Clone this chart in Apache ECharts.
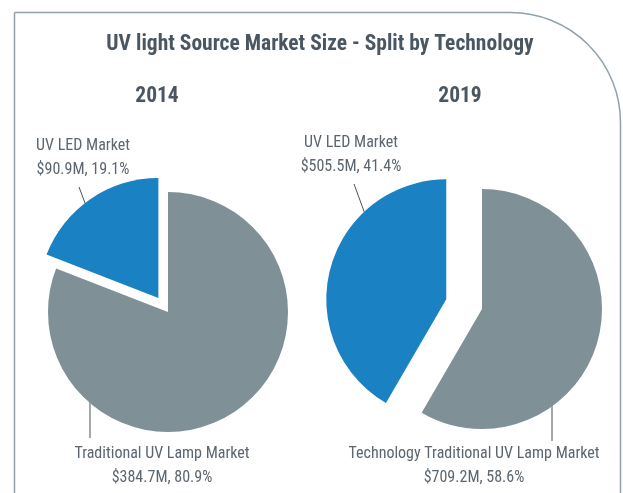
<!DOCTYPE html>
<html>
<head>
<meta charset="utf-8">
<title>UV light Source Market Size - Split by Technology</title>
<script src="https://cdn.jsdelivr.net/npm/echarts@6/dist/echarts.min.js"></script>
<style>
  html, body { margin: 0; padding: 0; background: #fff; }
  #chart { width: 623px; height: 493px; }
</style>
</head>
<body>
<div id="chart"></div>
<script>
  var years = ['2014', '2019'];
  var names2014 = ['Traditional UV Lamp Market', 'UV LED Market'];
  var names2019 = ['Technology Traditional UV Lamp Market', 'UV LED Market'];
  var sales2014 = [384.7, 90.9];    // $M
  var sales2019 = [709.2, 505.5];   // $M
  var share2014 = [80.9, 19.1];     // % as printed on the chart
  var share2019 = [58.6, 41.4];

  var FONT = '"Roboto Condensed", Roboto, "Liberation Sans", sans-serif';
  var colors = ['#7f9097', '#1a81c2'];
  var TEXT = '#5b6670';
  var HEAD = '#4a5661';

  // callouts: label centre and leader line, [lamp, led]
  var callouts = {
    '2014': [
      { at: [162, 466], line: [[90, 438], [90, 388]] },
      { at: [83, 158], line: [[79, 187], [97, 235]] }
    ],
    '2019': [
      { at: [474, 466], line: [[552, 441], [552, 390]] },
      { at: [351, 155], line: [[354, 184], [372, 233]] }
    ]
  };

  // one series per slice so the LED slice can sit pulled out from the centre
  function pies(year, names, values, shares, center, pull) {
    var total = values[0] + values[1];
    // LED mid angle, measured clockwise from 12 o'clock
    var mid = 2 * Math.PI * (values[0] + values[1] / 2) / total;
    var ledCenter = [center[0] + Math.sin(mid) * pull, center[1] - Math.cos(mid) * pull];

    function series(which, c) {
      return {
        type: 'pie',
        name: year,
        center: c,
        radius: 120,
        startAngle: 90,
        clockwise: true,
        avoidLabelOverlap: false,
        animation: false,
        silent: true,
        emphasis: { disabled: true },
        data: names.map(function (n, i) {
          var on = i === which;
          return {
            name: n,
            value: values[i],
            itemStyle: { color: on ? colors[i] : 'rgba(0,0,0,0)', borderWidth: 0 },
            label: { show: on },
            labelLine: { show: on }
          };
        }),
        label: {
          position: 'outside',
          color: TEXT,
          fontFamily: FONT,
          fontSize: 16,
          lineHeight: 24,
          align: 'center',
          formatter: function (p) {
            return p.name + '\n$' + p.value + 'M, ' + shares[p.dataIndex] + '%';
          }
        },
        labelLine: { length: 0, length2: 0, lineStyle: { color: '#4b5157', width: 1 } },
        labelLayout: function (p) {
          var co = callouts[year][p.dataIndex];
          return {
            x: co.at[0], y: co.at[1],
            align: 'center', verticalAlign: 'middle',
            labelLinePoints: co.line
          };
        }
      };
    }
    return [series(0, center), series(1, ledCenter)];
  }

  function heading(text, x, y) {
    return {
      type: 'text',
      x: x, y: y,
      style: {
        text: text, fill: HEAD,
        fontFamily: FONT, fontSize: 21.5, fontWeight: 'bold',
        align: 'center', verticalAlign: 'middle'
      }
    };
  }

  var chart = echarts.init(document.getElementById('chart'));
  var option = {
    backgroundColor: '#fff',
    animation: false,
    graphic: [
      {
        // frame with the rounded top-right corner
        type: 'rect',
        z: -1,
        shape: { x: 14.5, y: 12.5, width: 606, height: 540, r: [0, 110, 0, 0] },
        style: { fill: 'none', stroke: '#8fa1ab', lineWidth: 1.5 }
      },
      heading('UV light Source Market Size - Split by Technology', 320, 45),
      heading(years[0], 157, 97),
      heading(years[1], 460, 97)
    ],
    series: [].concat(
      pies(years[0], names2014, sales2014, share2014, [168, 312], 17),
      pies(years[1], names2019, sales2019, share2019, [482, 309], 37)
    )
  };
  chart.setOption(option);
</script>
</body>
</html>
